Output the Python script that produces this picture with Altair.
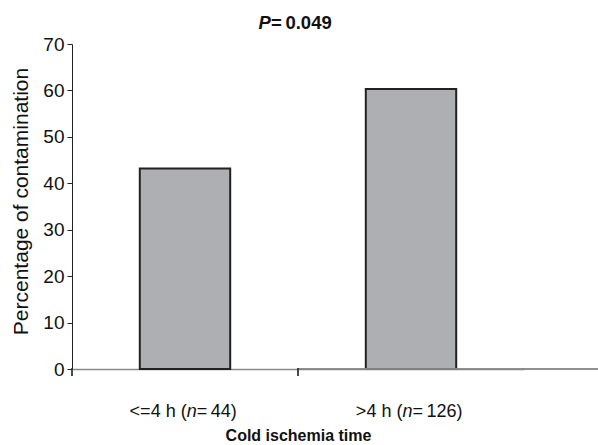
import altair as alt
import pandas as pd

# ---- data ----
groups = ["<=4 h", ">4 h"]
n_counts = [44, 126]
values = [43.2, 60.3]
p_value = "0.049"

THIN = "\u2009"
keys = [f"{g} (n{THIN}={THIN}{n})" for g, n in zip(groups, n_counts)]
prefixes = [f"{g} (" for g in groups]
suffixes = [f"{THIN}={THIN}{n})" for n in n_counts]

df = pd.DataFrame({"group": keys, "pct": values, "pre": prefixes, "suf": suffixes})

FONT = "Liberation Sans"
W, H = 452, 325
LABEL_FS = 18
TITLE_FS = 18.5
PAD_INNER, PAD_OUTER = 0.6, 0.3

# Arial / Liberation Sans advance widths (per 1000 em)
AW = {"<": 584, "=": 584, ">": 584, " ": 278, "h": 556, "(": 333, ")": 333,
      "n": 556, ".": 278, "P": 667, THIN: 200}
for d in "0123456789":
    AW[d] = 556


def tw(s, fs):
    return sum(AW.get(c, 556) for c in s) / 1000 * fs


n_w = tw("n", LABEL_FS)
n_left = {k: (tw(p, LABEL_FS) - n_w - tw(s, LABEL_FS)) / 2
          for k, p, s in zip(keys, prefixes, suffixes)}


def dx_expr(offsets):
    items = list(offsets.items())
    expr = f"{items[-1][1]:.2f}"
    for k, v in items[:-1]:
        expr = f"datum.group === '{k}' ? {v:.2f} : ({expr})"
    return alt.ExprRef(expr)


x_enc = alt.X("group:N", sort=keys, title="Cold ischemia time",
              scale=alt.Scale(paddingInner=PAD_INNER, paddingOuter=PAD_OUTER),
              axis=alt.Axis(labels=False, ticks=False,
                            domainColor="#888", domainWidth=1.5,
                            titleFontSize=16, titleFont=FONT, titleFontWeight="bold",
                            titleColor="#111", titlePadding=58))

bars = alt.Chart(df).mark_bar(
    color="#AEAFB2", stroke="#222222", strokeWidth=2
).encode(
    x=x_enc,
    y=alt.Y("pct:Q", title="Percentage of contamination",
            scale=alt.Scale(domain=[0, 70]),
            axis=alt.Axis(values=[0, 10, 20, 30, 40, 50, 60, 70], grid=False,
                          labelFontSize=19, labelFont=FONT, labelColor="#111",
                          tickSize=5, tickColor="#222", domainColor="#222", domainWidth=1,
                          labelPadding=3,
                          titleFontSize=21, titleFont=FONT, titleFontWeight="normal",
                          titleColor="#111", titlePadding=11, titleY=157))
)

ext = alt.Chart(df).mark_rule(color="#888", strokeWidth=1.5).encode(
    x=alt.value(W / 2), x2=alt.value(W + 78), y=alt.value(H)
)

# x-axis ticks at the category boundaries (start of each step)
step = W / (len(keys) - PAD_INNER + 2 * PAD_OUTER)
tick_layers = [
    alt.Chart(df).mark_rule(color="#333", strokeWidth=1.3).encode(
        x=alt.value(step * i), y=alt.value(H - 1), y2=alt.value(H + 7)
    )
    for i in range(len(keys))
]

LY = H + 43
lab_pre = alt.Chart(df).mark_text(
    font=FONT, fontSize=LABEL_FS, color="#111", align="right", baseline="middle",
    dx=dx_expr(n_left)
).encode(x=x_enc, y=alt.value(LY), text="pre:N")

lab_n = alt.Chart(df).mark_text(
    font=FONT, fontSize=LABEL_FS, fontStyle="italic", color="#111", align="left",
    baseline="middle", dx=dx_expr(n_left)
).encode(x=x_enc, y=alt.value(LY), text=alt.value("n"))

lab_suf = alt.Chart(df).mark_text(
    font=FONT, fontSize=LABEL_FS, color="#111", align="left", baseline="middle",
    dx=dx_expr({k: v + n_w for k, v in n_left.items()})
).encode(x=x_enc, y=alt.value(LY), text="suf:N")

# title "P = 0.049" with italic P
t_rest = f"{THIN}={THIN}{p_value}"
t_total = tw("P", TITLE_FS) + tw(t_rest, TITLE_FS)
t_split = W / 2 - 1 - t_total / 2 + tw("P", TITLE_FS)
title_df = pd.DataFrame({"p": ["P"], "rest": [t_rest]})
TY = -21

title_p = alt.Chart(title_df).mark_text(
    font=FONT, fontSize=TITLE_FS, fontWeight="bold", fontStyle="italic", color="#111",
    align="right", baseline="middle"
).encode(x=alt.value(t_split), y=alt.value(TY), text="p:N")

title_rest = alt.Chart(title_df).mark_text(
    font=FONT, fontSize=TITLE_FS, fontWeight="bold", color="#111",
    align="left", baseline="middle"
).encode(x=alt.value(t_split), y=alt.value(TY), text="rest:N")

chart = alt.layer(bars, ext, *tick_layers, lab_pre, lab_n, lab_suf, title_p, title_rest).properties(
    width=W, height=H,
    autosize=alt.AutoSizeParams(type="none"),
    padding={"left": 72, "top": 44, "right": 74, "bottom": 76},
).configure_view(stroke=None)

chart.save("out.html", embed_options={"renderer": "svg", "actions": False})
